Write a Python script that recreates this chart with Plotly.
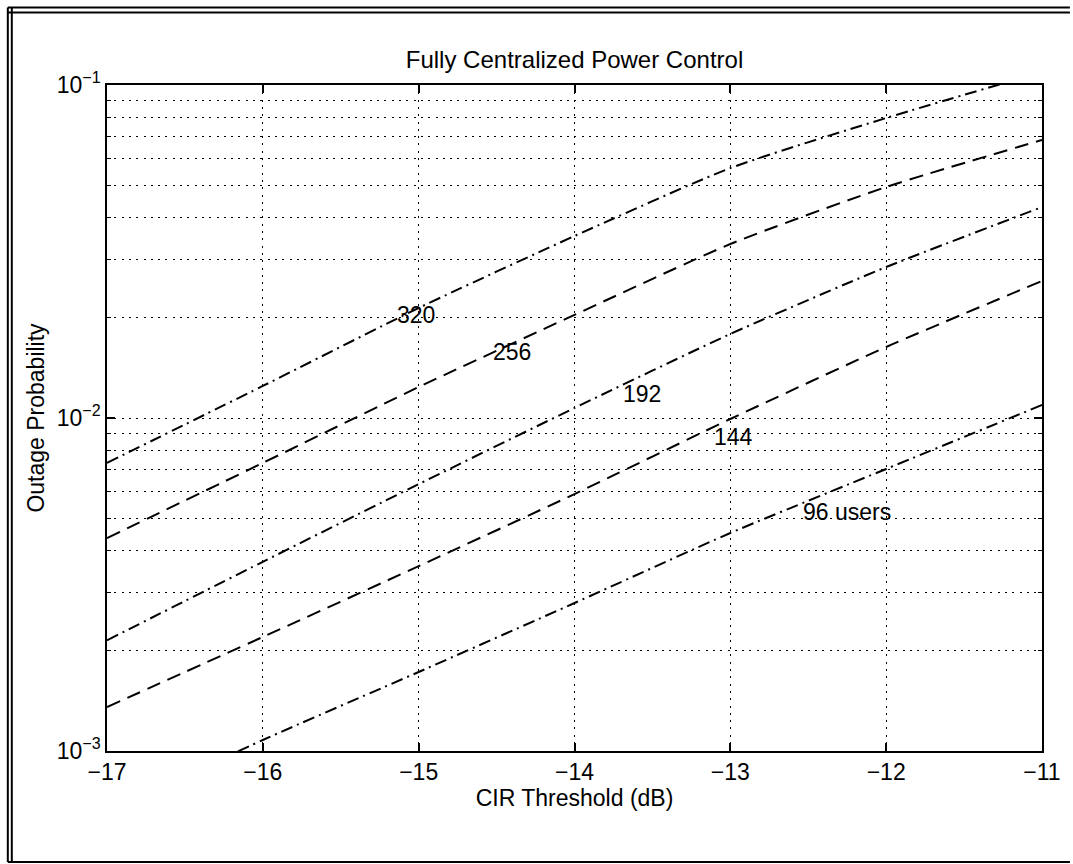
import numpy as np
import plotly.graph_objects as go

# CIR threshold (dB) sample points
cir_db = [-17, -16, -15, -14, -13, -12, -11]

# Outage probability per user load
outage_320 = [0.00733, 0.01248, 0.0214, 0.0352, 0.0563, 0.0796, 0.1094]
outage_256 = [0.00436, 0.00733, 0.01239, 0.0204, 0.0333, 0.0494, 0.0684]
outage_192 = [0.00215, 0.00370, 0.00633, 0.01072, 0.01788, 0.0284, 0.0430]
outage_144 = [0.001355, 0.00220, 0.00359, 0.00591, 0.00993, 0.01634, 0.0258]
outage_96 = [0.000656, 0.001079, 0.001727, 0.002782, 0.004515, 0.00703, 0.01094]

series_names = ["320", "256", "192", "144", "96 users"]
series_values = [outage_320, outage_256, outage_192, outage_144, outage_96]
series_dash = ["dashdot", "dash", "dashdot", "dash", "dashdot"]

# In-plot curve labels
label_x = [-15.02, -14.40, -13.57, -12.98, -12.25]
label_y = [0.0204, 0.0158, 0.0118, 0.00877, 0.00523]

# Axis ticks
x_ticks = [-17, -16, -15, -14, -13, -12, -11]
y_major = [1e-3, 1e-2, 1e-1]
y_major_text = ["10<sup>−3</sup>", "10<sup>−2</sup>", "10<sup>−1</sup>"]
y_minor = [m * 10.0 ** e for e in (-3, -2) for m in range(2, 10)]

FONT = "Liberation Sans, Arial, Helvetica, sans-serif"
FS = 23
DASHES = {"dash": "14px,8px", "dashdot": "12px,5px,2px,5px"}
GRID_DASH = "2px,5.3px"

fig = go.Figure()
for name, vals, dash in zip(series_names, series_values, series_dash):
    fig.add_trace(go.Scatter(
        x=cir_db, y=vals, mode="lines", name=name,
        line=dict(color="black", width=2, dash=DASHES[dash], shape="spline", smoothing=0.6),
        showlegend=False,
    ))

for txt, lx, ly in zip(series_names, label_x, label_y):
    fig.add_annotation(
        x=lx, y=np.log10(ly), text=txt, showarrow=False,
        xanchor="center", yanchor="middle",
        font=dict(family=FONT, size=FS, color="black"),
    )

W, H = 1073, 864
L, R, T, B = 107, 28, 85, 113
pw, ph = W - L - R, H - T - B


def px_x(p):
    return (p - L) / pw


def px_y(p):
    return (H - B - p) / ph


# Double frame around the figure (left and top doubled, bottom single)
frame = dict(type="line", xref="paper", yref="paper", line=dict(color="black", width=2))
for xv in (7.5, 11.5):
    fig.add_shape(**frame, x0=px_x(xv), x1=px_x(xv), y0=px_y(7.5), y1=px_y(862))
for yv in (7.5, 12.5):
    fig.add_shape(**frame, x0=px_x(7.5), x1=px_x(1073), y0=px_y(yv), y1=px_y(yv))
fig.add_shape(**frame, x0=px_x(7.5), x1=px_x(1073), y0=px_y(862), y1=px_y(862))

fig.update_layout(
    width=W, height=H,
    margin=dict(l=L, r=R, t=T, b=B),
    paper_bgcolor="white", plot_bgcolor="white",
    font=dict(family=FONT, size=FS, color="black"),
    title=dict(text="Fully Centralized Power Control", x=0.5, xref="paper",
               y=1 - 60 / H, yref="container", xanchor="center", yanchor="middle",
               font=dict(family=FONT, size=FS + 1, color="black")),
)

fig.update_xaxes(
    range=[-17, -11], tickvals=x_ticks,
    showline=True, linecolor="black", linewidth=1.6, mirror="ticks",
    ticks="inside", ticklen=8, tickwidth=1.5, tickcolor="black",
    showgrid=True, gridcolor="black", gridwidth=1.3, griddash=GRID_DASH,
    zeroline=False,
    tickfont=dict(family=FONT, size=FS),
    title=dict(text="CIR Threshold (dB)", font=dict(family=FONT, size=FS), standoff=2),
)

fig.update_yaxes(
    type="log", range=[-3, -1],
    tickmode="array", tickvals=y_major, ticktext=y_major_text,
    showline=True, linecolor="black", linewidth=1.6, mirror="ticks",
    ticks="inside", ticklen=8, tickwidth=1.5, tickcolor="black",
    showgrid=True, gridcolor="black", gridwidth=1.3, griddash=GRID_DASH,
    zeroline=False,
    tickfont=dict(family=FONT, size=FS),
    minor=dict(tickvals=y_minor, ticks="inside", ticklen=4, tickwidth=1.2, tickcolor="black",
               showgrid=True, gridcolor="black", gridwidth=1.3, griddash=GRID_DASH),
    title=dict(text="Outage Probability", font=dict(family=FONT, size=FS), standoff=6),
)

fig.write_html("out.html")
